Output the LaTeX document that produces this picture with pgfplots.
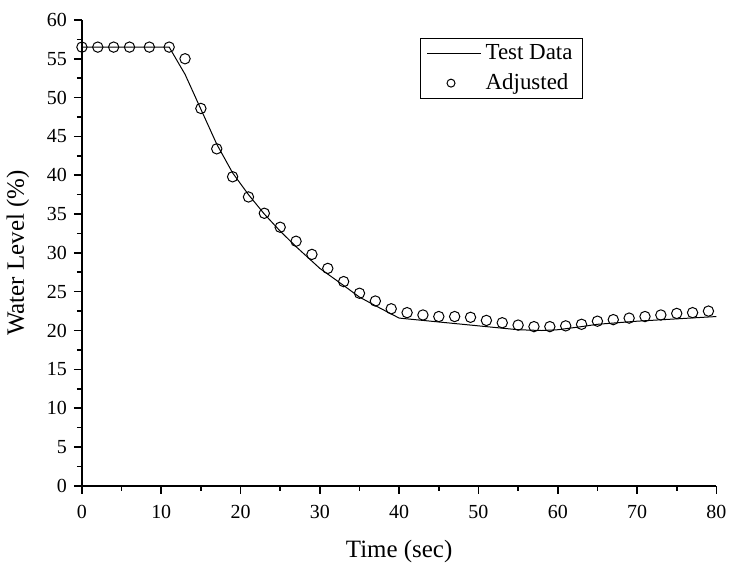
\documentclass[border=0pt]{standalone}
\usepackage{fontspec}
\setmainfont{Liberation Serif}
\usepackage{pgfplots}
\pgfplotsset{compat=1.18}
\pgfplotsset{
  linelegend/.style={legend image code/.code={\draw[##1] (0cm,0cm) -- (0.95cm,0cm);}},
  marklegend/.style={legend image code/.code={\draw[mark repeat=2,mark phase=2,##1, mark size=2pt] plot coordinates {(0cm,0cm) (0.42cm,0cm) (0.95cm,0cm)};}},
}
\begin{document}
\begin{tikzpicture}
\begin{axis}[
  scale only axis,
  width=318pt, height=233.5pt,
  xmin=0, xmax=80, ymin=0, ymax=60,
  axis lines*=left,
  axis line style={line width=0.9pt},
  xtick={0,10,...,80}, ytick={0,5,...,60},
  minor x tick num=1, minor y tick num=1,
  tick align=outside,
  major tick length=4pt, minor tick length=2.5pt,
  tick style={black, line width=0.8pt},
  /pgf/number format/assume math mode=true,
  tick label style={font=\fontsize{10}{12}\selectfont},
  xticklabel style={yshift=-2pt},
  xlabel={Time (sec)}, ylabel={Water Level (\%)},
  label style={font=\fontsize{12.5}{15}\selectfont},
  xlabel style={yshift=-4pt},
  ylabel style={yshift=2pt},
  legend style={at={(0.533,0.961)}, anchor=north west, draw=black, line width=0.6pt,
    font=\fontsize{11.5}{13}\selectfont, row sep=1.5pt, inner xsep=3pt, inner ysep=1pt},
  legend cell align=left,
]
\addplot[black, line width=0.5pt, linelegend] coordinates {
(0,56.5) (11,56.5) (13,53) (15,48.5) (17,44) (19,40.3) (21,37.5) (23,35)
(25,32.8) (27,30.8) (30,28) (33,25.8) (35,24.3) (37,23.2) (40,21.6)
(45,21.1) (50,20.6) (55,20.1) (58,20.0) (60,20.1) (63,20.5) (65,20.8)
(70,21.2) (75,21.5) (80,21.8)
};
\addlegendentry{Test Data}
\addplot[only marks, mark=o, mark size=2.6pt, mark options={line width=0.5pt}, black, marklegend] coordinates {
(0,56.5) (2,56.5) (4,56.5) (6,56.5) (8.5,56.5) (11,56.5) (13,55) (15,48.6)
(17,43.4) (19,39.8) (21,37.2) (23,35.1) (25,33.3) (27,31.5) (29,29.8)
(31,28) (33,26.3) (35,24.8) (37,23.8) (39,22.8) (41,22.3) (43,22)
(45,21.8) (47,21.8) (49,21.7) (51,21.3) (53,21) (55,20.7) (57,20.5)
(59,20.5) (61,20.6) (63,20.8) (65,21.2) (67,21.4) (69,21.6) (71,21.8)
(73,22) (75,22.2) (77,22.3) (79,22.5)
};
\addlegendentry{Adjusted}
\end{axis}
\path ([yshift=10pt]current axis.north);
\end{tikzpicture}
\end{document}
